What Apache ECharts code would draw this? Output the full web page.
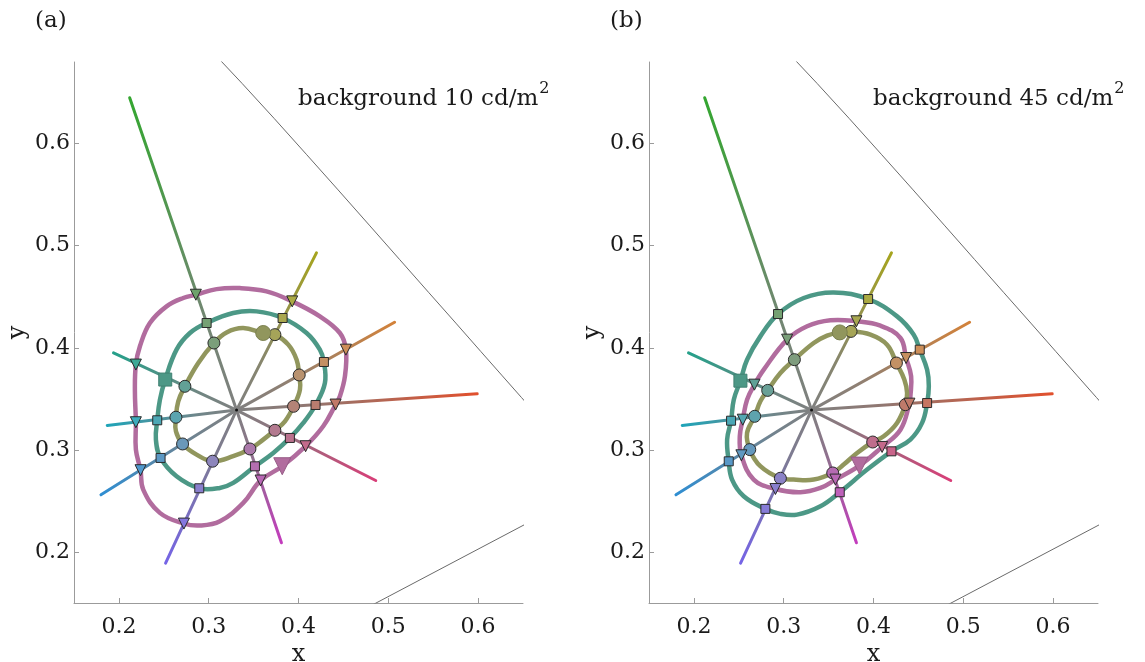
<!DOCTYPE html>
<html><head><meta charset="utf-8">
<script src="https://cdn.jsdelivr.net/npm/echarts@6/dist/echarts.min.js"></script>
<style>html,body{margin:0;padding:0;background:#fff}#chart{width:1145px;height:662px}</style>
</head><body><div id="chart"></div>
<script>
// ---------- data ----------
const xTicks = [0.2, 0.3, 0.4, 0.5, 0.6];
const yTicks = [0.2, 0.3, 0.4, 0.5, 0.6];
const panelLabels = ['(a)', '(b)'];
const backgroundLums = ['10', '45'];
const whitePoint = [0.331, 0.339];
// ray end points (same directions in both panels): green, olive, orange, red, pink, magenta, purple, blue, cyan, teal
const rayEnds = [[0.212,0.645],[0.420,0.493],[0.507,0.425],[0.599,0.355],[0.486,0.270],[0.381,0.209],[0.252,0.189],[0.180,0.256],[0.187,0.324],[0.194,0.395]];
const rayColors = ['#34a630','#a6a41e','#d3823a','#e1502d','#d83e78','#c33cbd','#7564e6','#2f8ed2','#1fa4b8','#25a08a'];
// CIE 1931 spectral locus 540-610 nm and purple line
const spectralLocus = [[0.2296,0.7543],[0.2658,0.7243],[0.3016,0.6923],[0.3373,0.6589],[0.3731,0.6245],[0.4087,0.5896],[0.4441,0.5547],[0.4788,0.5202],[0.5125,0.4866],[0.5448,0.4544],[0.5752,0.4242],[0.6029,0.3965],[0.6270,0.3725],[0.6482,0.3514],[0.6658,0.3340]];
const purpleLine = [[0.1741,0.0050],[0.7347,0.2653]];

// panel (a): background 10 cd/m2
const aCircles = [[0.3058,0.4047],[0.3737,0.4129],[0.4008,0.3734],[0.3945,0.3427],[0.3737,0.3192],[0.3459,0.3009],[0.3043,0.2889],[0.2709,0.3058],[0.2635,0.3320],[0.2735,0.3623]];
const aSquares = [[0.2977,0.4243],[0.3823,0.4292],[0.4283,0.3861],[0.4190,0.3440],[0.3904,0.3117],[0.3515,0.2839],[0.2895,0.2624],[0.2464,0.2921],[0.2427,0.3290],null];
const aTriangles = [[0.2857,0.4520],[0.3930,0.4455],[0.4528,0.3982],[0.4413,0.3444],[0.4079,0.3036],[0.3578,0.2700],[0.2724,0.2278],[0.2241,0.2801],[0.2189,0.3271],[0.2189,0.3836]];
const aBig = {circle:[0.3607,0.4145], square:[0.2516,0.3689], triangle:[0.3819,0.2840]};
const aInner = [[0.3058,0.4047],[0.3199,0.4151],[0.3384,0.4194],[0.3607,0.4145],[0.3737,0.4129],[0.3886,0.4031],[0.3979,0.3884],[0.4008,0.3734],[0.4016,0.3590],[0.3945,0.3427],[0.3849,0.3280],[0.3737,0.3192],[0.3607,0.3101],[0.3459,0.3009],[0.3273,0.2938],[0.3043,0.2889],[0.2865,0.2954],[0.2709,0.3058],[0.2635,0.3182],[0.2635,0.3320],[0.2661,0.3476],[0.2735,0.3623],[0.2884,0.3852]];
const aMiddle = [[0.2977,0.4243],[0.3273,0.4341],[0.3533,0.4357],[0.3823,0.4292],[0.4090,0.4145],[0.4238,0.3982],[0.4283,0.3861],[0.4294,0.3655],[0.4190,0.3440],[0.4053,0.3264],[0.3904,0.3117],[0.3719,0.2970],[0.3515,0.2839],[0.3273,0.2676],[0.3124,0.2627],[0.2895,0.2624],[0.2642,0.2741],[0.2464,0.2921],[0.2412,0.3101],[0.2427,0.3290],[0.2457,0.3493],[0.2516,0.3689],[0.2642,0.3982],[0.2791,0.4145]];
const aOuter = [[0.2857,0.4520],[0.3088,0.4575],[0.3347,0.4585],[0.3644,0.4553],[0.3930,0.4455],[0.4238,0.4308],[0.4461,0.4145],[0.4528,0.3982],[0.4517,0.3721],[0.4461,0.3525],[0.4413,0.3444],[0.4275,0.3231],[0.4079,0.3036],[0.3819,0.2840],[0.3578,0.2700],[0.3385,0.2481],[0.3125,0.2301],[0.2902,0.2259],[0.2724,0.2278],[0.2456,0.2383],[0.2271,0.2611],[0.2241,0.2801],[0.2189,0.3003],[0.2189,0.3271],[0.2178,0.3591],[0.2189,0.3836],[0.2234,0.4015],[0.2345,0.4243],[0.2531,0.4406],[0.2716,0.4488]];

// panel (b): background 45 cd/m2
const bCircles = [[0.3119,0.3884],[0.3750,0.4161],[0.4255,0.3851],[0.4355,0.3443],[0.3991,0.3077],[0.3546,0.2774],[0.2963,0.2722],[0.2622,0.3003],[0.2677,0.3329],[0.2822,0.3583]];
const bTriangles = [[0.3038,0.4080],[0.3810,0.4260],[0.4363,0.3900],[0.4400,0.3453],[0.4096,0.3029],[0.3576,0.2709],[0.2908,0.2617],[0.2529,0.2947],[0.2544,0.3296],[0.2674,0.3639]];
const bSquares = [[0.2937,0.4331],[0.3940,0.4478],[0.4515,0.3982],[0.4597,0.3459],[0.4200,0.2986],[0.3624,0.2585],[0.2796,0.2422],[0.2388,0.2888],[0.2414,0.3286],null];
const bBig = {circle:[0.3624,0.4151], square:[0.2518,0.3678], triangle:[0.3844,0.2846]};
const bInner = [[0.2822,0.3583],[0.2963,0.3753],[0.3119,0.3884],[0.3334,0.4047],[0.3483,0.4119],[0.3624,0.4151],[0.3750,0.4161],[0.3966,0.4129],[0.4151,0.4031],[0.4255,0.3851],[0.4344,0.3688],[0.4374,0.3557],[0.4355,0.3443],[0.4262,0.3264],[0.4114,0.3133],[0.3991,0.3077],[0.3817,0.2970],[0.3668,0.2856],[0.3546,0.2774],[0.3334,0.2709],[0.3111,0.2709],[0.2963,0.2722],[0.2740,0.2840],[0.2622,0.3003],[0.2592,0.3166],[0.2677,0.3329],[0.2740,0.3476]];
const bMiddle = [[0.2674,0.3639],[0.2778,0.3786],[0.3038,0.4080],[0.3261,0.4211],[0.3520,0.4270],[0.3810,0.4260],[0.4077,0.4217],[0.4300,0.4096],[0.4363,0.3900],[0.4419,0.3721],[0.4411,0.3525],[0.4400,0.3453],[0.4300,0.3198],[0.4096,0.3029],[0.3844,0.2846],[0.3576,0.2709],[0.3409,0.2627],[0.3186,0.2585],[0.2908,0.2617],[0.2666,0.2709],[0.2529,0.2947],[0.2511,0.3133],[0.2544,0.3296],[0.2592,0.3492]];
const bOuter = [[0.2518,0.3678],[0.2592,0.3883],[0.2740,0.4112],[0.2937,0.4331],[0.3223,0.4488],[0.3557,0.4543],[0.3940,0.4478],[0.4263,0.4308],[0.4448,0.4129],[0.4515,0.3982],[0.4597,0.3786],[0.4616,0.3623],[0.4597,0.3459],[0.4541,0.3264],[0.4411,0.3101],[0.4200,0.2986],[0.3929,0.2807],[0.3624,0.2585],[0.3409,0.2448],[0.3149,0.2366],[0.2963,0.2373],[0.2796,0.2422],[0.2555,0.2546],[0.2425,0.2709],[0.2388,0.2888],[0.2370,0.3101],[0.2414,0.3286],[0.2444,0.3492]];

// ---------- styling helpers ----------
const OLIVE = '#91965d', TEAL = '#4c9886', PINK = '#b16c9e';
const SERIF = "'DejaVu Serif', 'Liberation Serif', serif";
function hex2rgb(h){h=h.replace('#','');return [0,2,4].map(k=>parseInt(h.substr(k,2),16));}
function mixHex(a,b,t){const A=hex2rgb(a),B=hex2rgb(b);return '#'+A.map((v,k)=>Math.round(v+(B[k]-v)*t).toString(16).padStart(2,'0')).join('');}
function markerFill(i,q){
  const e=rayEnds[i];
  const L=Math.hypot(e[0]-whitePoint[0],e[1]-whitePoint[1]);
  const d=Math.hypot(q[0]-whitePoint[0],q[1]-whitePoint[1]);
  const f=Math.min(1,0.12+1.05*d/L);
  return mixHex(mixHex('#8a8a8a',rayColors[i],f),'#ffffff',0.1);
}

const grids=[{left:74,top:62,width:449,height:541,outerBoundsMode:'none',containLabel:false},
             {left:649,top:62,width:449,height:541,outerBoundsMode:'none',containLabel:false}];

function axisCommon(ticks, name, gap, margin){
  return {
    type:'value', name:name, nameLocation:'middle', nameGap:gap,
    nameTextStyle:{fontFamily:SERIF,fontSize:24,color:'#1a1a1a'},
    axisLine:{show:true,onZero:false,lineStyle:{color:'#9b9b9b',width:1}},
    axisTick:{show:true,inside:true,length:5,customValues:ticks,lineStyle:{color:'#9b9b9b'}},
    axisLabel:{customValues:ticks,fontFamily:SERIF,fontSize:22,color:'#1a1a1a',margin:margin,formatter:v=>v.toFixed(1)},
    splitLine:{show:false}
  };
}

function raySeries(p){
  return {type:'custom',xAxisIndex:p,yAxisIndex:p,z:2,silent:true,
    data:rayEnds.map((e,i)=>[e[0],e[1],i]),
    renderItem:(params,api)=>{
      const i=api.value(2), e=rayEnds[i];
      const c0=api.coord(whitePoint), c1=api.coord(e);
      return {type:'line',shape:{x1:c0[0],y1:c0[1],x2:c1[0],y2:c1[1]},
        style:{stroke:new echarts.graphic.LinearGradient(c0[0],c0[1],c1[0],c1[1],[
          {offset:0,color:'#808080'},{offset:0.3,color:mixHex('#808080',rayColors[i],0.18)},{offset:1,color:rayColors[i]}],true),
          lineWidth:3,lineCap:'round'}};
    }};
}
function contourSeries(p,pts,color,w){
  return {type:'custom',xAxisIndex:p,yAxisIndex:p,z:3,silent:true,
    data:[pts[0]],
    renderItem:(params,api)=>({type:'polygon',shape:{points:pts.map(q=>api.coord(q)),smooth:0.4},
      style:{fill:'none',stroke:color,lineWidth:w}})};
}
function markerSeries(p,pts,symbol,size,rotate){
  const data=[];
  pts.forEach((q,i)=>{ if(q) data.push({value:q,itemStyle:{color:markerFill(i,q)}}); });
  return {type:'scatter',xAxisIndex:p,yAxisIndex:p,z:5,silent:true,symbol:symbol,symbolSize:size,symbolRotate:rotate||0,
    itemStyle:{borderColor:'#2b2b2b',borderWidth:1,opacity:1},data:data};
}
function bigSeries(p,pt,symbol,size,color,rotate){
  return {type:'scatter',xAxisIndex:p,yAxisIndex:p,z:6,silent:true,symbol:symbol,symbolSize:size,symbolRotate:rotate||0,
    itemStyle:{color:color,borderColor:mixHex(color,'#000000',0.15),borderWidth:1,opacity:1},data:[pt]};
}
function boundarySeries(p,pts){
  return {type:'line',xAxisIndex:p,yAxisIndex:p,z:1,silent:true,showSymbol:false,symbol:'none',clip:true,
    lineStyle:{color:'#6a6a6a',width:1},data:pts};
}

const panels=[
  {inner:aInner,middle:aMiddle,outer:aOuter,innerC:OLIVE,middleC:TEAL,outerC:PINK,circles:aCircles,squares:aSquares,triangles:aTriangles,big:aBig},
  {inner:bInner,middle:bMiddle,outer:bOuter,innerC:OLIVE,middleC:PINK,outerC:TEAL,circles:bCircles,squares:bSquares,triangles:bTriangles,big:bBig}
];

const series=[];
panels.forEach((P,p)=>{
  series.push(boundarySeries(p,spectralLocus));
  series.push(boundarySeries(p,purpleLine));
  series.push(raySeries(p));
  series.push(contourSeries(p,P.outer,P.outerC,4.5));
  series.push(contourSeries(p,P.middle,P.middleC,4.5));
  series.push(contourSeries(p,P.inner,P.innerC,4.5));
  series.push({type:'scatter',xAxisIndex:p,yAxisIndex:p,z:4,silent:true,symbolSize:3,itemStyle:{color:'#111',opacity:1},data:[whitePoint]});
  series.push(markerSeries(p,P.circles,'circle',12));
  series.push(markerSeries(p,P.squares,'rect',9));
  series.push(markerSeries(p,P.triangles,'triangle',11,180));
  series.push(bigSeries(p,P.big.circle,'circle',15,OLIVE));
  series.push(bigSeries(p,P.big.square,'rect',13,TEAL));
  series.push(bigSeries(p,P.big.triangle,'triangle',17,PINK,180));
});

const graphics=[];
grids.forEach((g,p)=>{
  graphics.push({type:'text',left:g.left-39,top:10,style:{text:panelLabels[p],font:'23px '+SERIF,fill:'#1a1a1a'}});
  graphics.push({type:'text',x:g.left+224,y:96,style:{
    text:'{t|background '+backgroundLums[p]+' cd/m}{s|2}',
    verticalAlign:'middle',
    rich:{t:{fontFamily:SERIF,fontSize:23,fill:'#1a1a1a',color:'#1a1a1a',lineHeight:30,verticalAlign:'bottom'},
          s:{fontFamily:SERIF,fontSize:16,fill:'#1a1a1a',color:'#1a1a1a',lineHeight:30,verticalAlign:'top',padding:[0,0,0,1]}}}});
});

const chart=echarts.init(document.getElementById('chart'),null,{renderer:'canvas'});
chart.setOption({
  animation:false,
  backgroundColor:'#ffffff',
  grid:grids,
  xAxis:grids.map((g,p)=>Object.assign(axisCommon(xTicks,'x',34,13),{gridIndex:p,min:0.15,max:0.65})),
  yAxis:grids.map((g,p)=>Object.assign(axisCommon(yTicks,'y',44,4),{gridIndex:p,min:0.15,max:0.68})),
  graphic:graphics,
  series:series
});
</script></body></html>
